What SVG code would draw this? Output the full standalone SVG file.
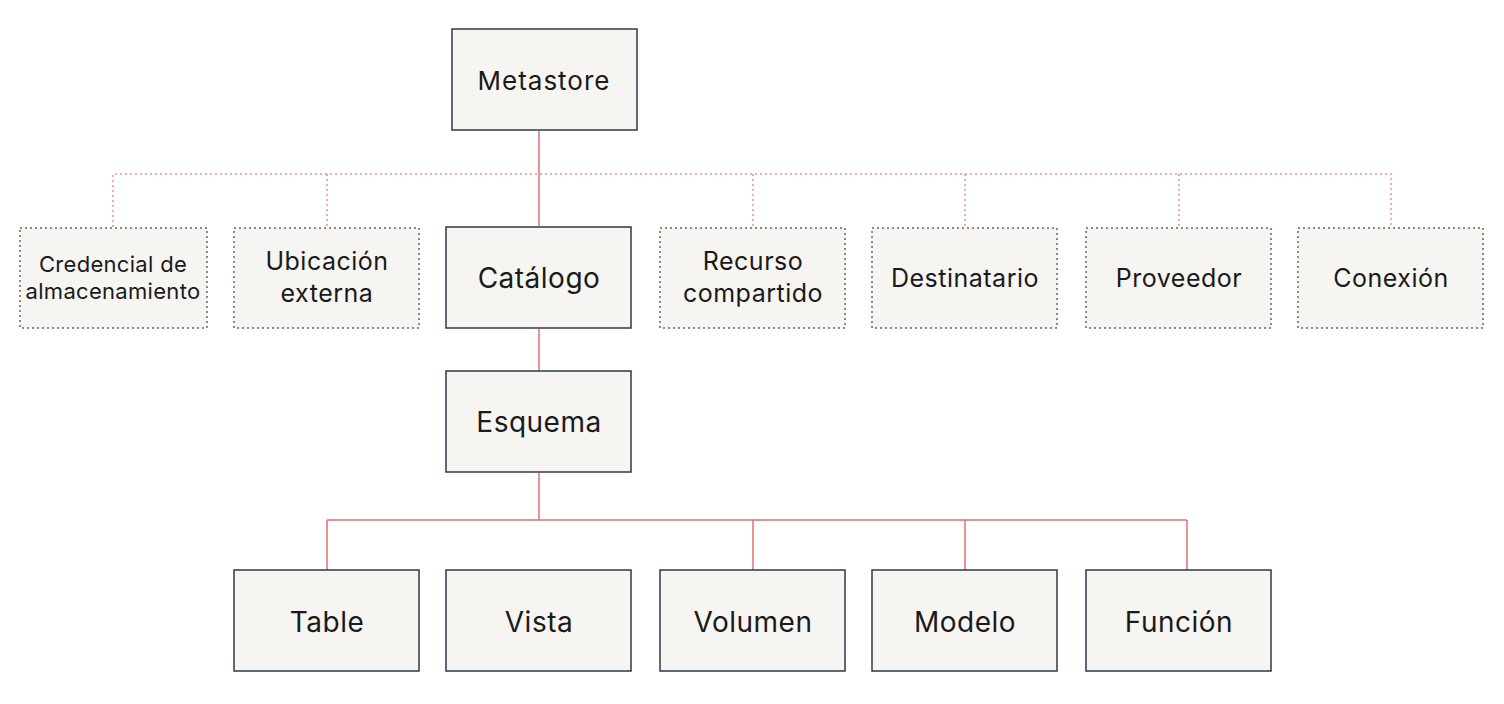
<svg xmlns="http://www.w3.org/2000/svg" width="1504" height="704" viewBox="0 0 1504 704">
<style>
.n{fill:#f7f5f2;stroke:#2c3a4b;stroke-width:1.5}
.d{fill:#f7f5f2;stroke:#666;stroke-width:1.5;stroke-dasharray:2 3}
.t{font-family:"Inter","Liberation Sans",sans-serif;font-size:28px;letter-spacing:0.5px;fill:#1a1a1a;text-anchor:middle}
.s{font-size:22px;letter-spacing:0.3px}
.m{font-size:25px}
.c{stroke:#e07070;stroke-width:1.5;fill:none}
.cd{stroke:#e89090;stroke-width:1.5;fill:none;stroke-dasharray:2 3}
</style>
<rect width="1504" height="704" fill="#fff"/>
<g id="connectors">
<path class="c" d="M539 131V226M539 329V371M539 473V520M327 520H1187M327 520V570M753 520V570M965 520V570M1187 520V570"/>
<path class="cd" d="M113 227V174H1391V227M327 174V227M753 174V227M965 174V227M1179 174V227"/>
</g>
<g id="metastore"><rect class="n" x="452" y="29" width="185" height="101"/><text class="t" x="544" y="90" style="font-size:26px;letter-spacing:1px">Metastore</text></g>
<g id="credencial"><rect class="d" x="20" y="228" width="187" height="100"/><text class="t s" x="113" y="272">Credencial de</text><text class="t s" x="113" y="299">almacenamiento</text></g>
<g id="ubicacion"><rect class="d" x="234" y="228" width="185" height="100"/><text class="t m" x="327" y="270">Ubicación</text><text class="t m" x="327" y="302">externa</text></g>
<g id="catalogo"><rect class="n" x="446" y="227" width="185" height="101"/><text class="t" x="539" y="288">Catálogo</text></g>
<g id="recurso"><rect class="d" x="660" y="228" width="185" height="100"/><text class="t m" x="753" y="270">Recurso</text><text class="t m" x="753" y="302">compartido</text></g>
<g id="destinatario"><rect class="d" x="872" y="228" width="185" height="100"/><text class="t m" x="965" y="287">Destinatario</text></g>
<g id="proveedor"><rect class="d" x="1086" y="228" width="185" height="100"/><text class="t m" x="1179" y="287">Proveedor</text></g>
<g id="conexion"><rect class="d" x="1298" y="228" width="185" height="100"/><text class="t m" x="1391" y="287">Conexión</text></g>
<g id="esquema"><rect class="n" x="446" y="371" width="185" height="101"/><text class="t" x="539" y="432">Esquema</text></g>
<g id="table"><rect class="n" x="234" y="570" width="185" height="101"/><text class="t" x="327" y="632">Table</text></g>
<g id="vista"><rect class="n" x="446" y="570" width="185" height="101"/><text class="t" x="539" y="632">Vista</text></g>
<g id="volumen"><rect class="n" x="660" y="570" width="185" height="101"/><text class="t" x="753" y="632">Volumen</text></g>
<g id="modelo"><rect class="n" x="872" y="570" width="185" height="101"/><text class="t" x="965" y="632">Modelo</text></g>
<g id="funcion"><rect class="n" x="1086" y="570" width="185" height="101"/><text class="t" x="1179" y="632">Función</text></g>
</svg>
